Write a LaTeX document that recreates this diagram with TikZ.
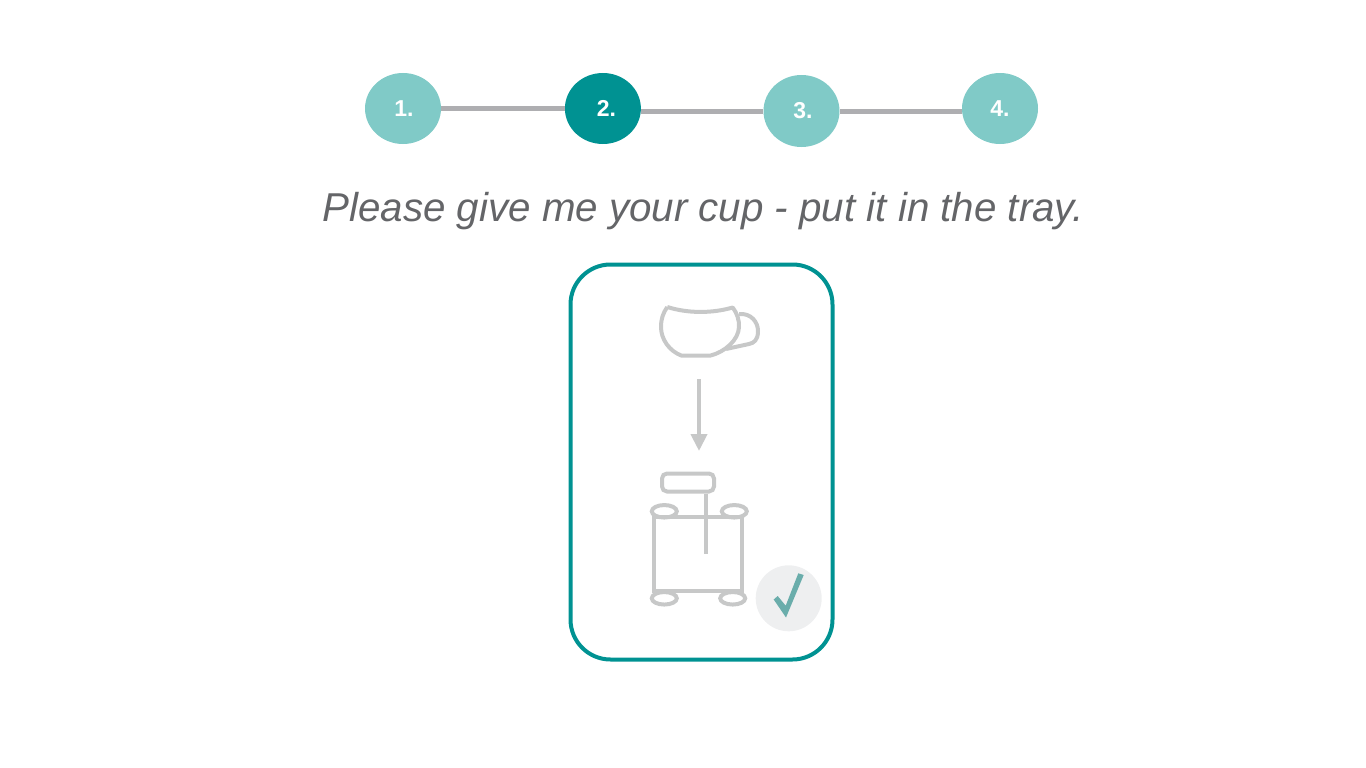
\documentclass[tikz,border=0pt]{standalone}
\usepackage{fontspec}
\setmainfont{Liberation Sans}
\usepackage{xcolor}
\usetikzlibrary{shapes,shapes.geometric}
\usetikzlibrary{arrows.meta}
\usetikzlibrary{positioning}
\definecolor{tealdark}{HTML}{009292}
\definecolor{teallight}{HTML}{80CAC7}
\definecolor{linegrey}{HTML}{AEAEB1}
\definecolor{icongrey}{HTML}{C7C8C8}
\definecolor{textgrey}{HTML}{646568}
\definecolor{badgegrey}{HTML}{EEEFF0}
\definecolor{checkteal}{HTML}{6AADAB}

\begin{document}
\begin{tikzpicture}[x=1pt,y=-1pt]
\tikzset{stepnode/.style={ellipse,fill=teallight,text=white,inner sep=0pt,minimum width=76pt,minimum height=71pt,font=\fontsize{23}{26}\selectfont\bfseries}}
\tikzset{stepline/.style={draw=linegrey,line width=5pt}}
\tikzset{iconline/.style={draw=icongrey,line width=4pt}}
\tikzset{wheel/.style={ellipse,iconline,inner sep=0pt,minimum width=25pt,minimum height=12.5pt}}
\useasboundingbox (0,0) rectangle (1366,768);
\node[stepnode](one) at (403,108.5){\hspace*{2pt}1.};
\node[stepnode,fill=tealdark](two)[right=123.5pt of one]{\hspace*{7pt}2.};
\node[stepnode,minimum height=72pt](three) at (801.5,111){\hspace*{3pt}\raisebox{1pt}{3.}};
\node[stepnode](four) at (1000,108.5){4.};
\draw[stepline](one) -- (two);
\draw[stepline](two.east |- three.west) -- (three.west);
\draw[stepline](three.east) -- (three.east -| four.west);
\node[text=textgrey,font=\fontsize{40.3}{48}\selectfont\itshape](prompt) at (703,211){Please give me your cup - put it in the tray.};
\node[draw=tealdark,line width=4pt,rounded corners=40pt,minimum width=262pt,minimum height=395pt,inner sep=0pt](card) at (701.5,462){};
\draw[iconline,line join=round](667.3,307) .. controls (688,313.5) and (712,313.5) .. (732.7,307.5) .. controls (737,313) and (739.3,320) .. (739,327) .. controls (738.5,340) and (725,352) .. (710,355.7) -- (681.7,355.7) .. controls (669,351) and (661,339) .. (661,327) .. controls (661,319) and (663,313) .. (667.3,307);
\draw[iconline](739,314) .. controls (751,313) and (758,322) .. (758,331) .. controls (758,340) and (754,343) .. (749,344) -- (726,349);
\coordinate(arrowstart) at (699,379);
\coordinate(arrowend) at (699,451);
\draw[icongrey,line width=4pt,-{Triangle[length=17pt,width=16pt]}](arrowstart) -- (arrowend);
\node[iconline,rounded corners=5pt,minimum width=52pt,minimum height=18pt,inner sep=0pt](handle) at (688,482.5){};
\node[iconline,minimum width=88pt,minimum height=73.5pt,inner sep=0pt](tray) at (698,554){};
\coordinate(stemend) at (706,554);
\draw[iconline](handle.south -| stemend) -- (stemend);
\node[wheel](wheela) at (664.3,511.3){};
\node[wheel](wheelb) at (734.3,511.3){};
\node[wheel](wheelc) at (664.3,598.3){};
\node[wheel](wheeld) at (732.7,598.3){};
\node[circle,fill=badgegrey,minimum size=66pt,inner sep=0pt](badge) at (788.7,598.3){};
\fill[checkteal](773.7,599.5) -- (777.7,596) -- (785.7,605.7) -- (798.3,573.3) -- (803.7,575) -- (786,617.5) -- cycle;
\end{tikzpicture}
\end{document}
